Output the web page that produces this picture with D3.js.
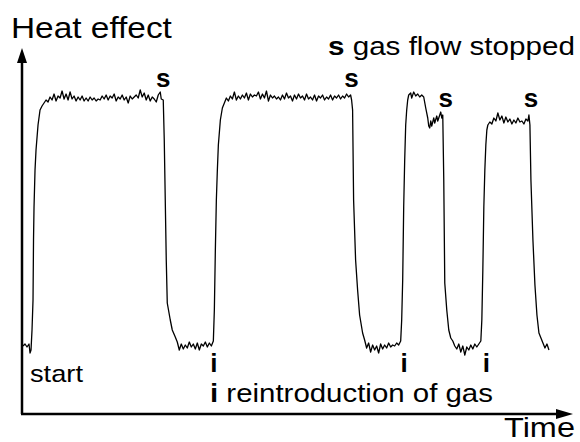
<!DOCTYPE html>
<html>
<head>
<meta charset="utf-8">
<script src="https://cdn.jsdelivr.net/npm/d3@7"></script>
<style>
  body { margin: 0; background: white; }
  text { font-family: "Liberation Sans", Arial, sans-serif; fill: #000; }
</style>
</head>
<body>
<div id="chart"></div>
<script>
let width = 580;
let height = 442;

// trace (time in arbitrary units, heat effect in arbitrary units)
let time = [1,3,5,7,8,9,10,11,11.5,12,13,14,16,18,20,22,24,26,28,30,32,34,36,38,40,42,44,46,48,50,52,54,56,58,60,62,64,66,68,70,72,74,76,78,80,82,84,86,88,90,92,94,96,98,100,102,104,106,108,110,112,114,116,118,120,122,124,126,128,130,132,134,136,138,139,141,
  142,143,144,145,148,150,153,155,157,159,161,163,165,167,169,171,173,175,177,179,181,183,185,187,189,191,
  192,193,194,195,196,198,200,202,204,206,208,210,212,214,216,218,220,222,224,226,228,230,232,234,236,238,240,242,244,246,248,250,252,254,256,258,260,262,264,266,268,270,272,274,276,278,280,282,284,286,288,290,292,294,296,298,300,302,304,306,308,310,312,314,316,318,320,322,324,326,328,329,
  330,331,333,335,337,340,342,344,346,348,350,352,354,356,358,360,362,364,366,368,370,372,374,376,378,
  379,380,381,382,383,384,385,386,388,389,391,393,395,397,399,401,
  403,405,406,407,408,409,411,412,414,415,417,418,419,420,
  421,422,424,426,428,430,432,434,436,438,440,442,444,446,448,450,452,454,456,458,
  459,460,461,462,463,464,465,467,469,471,473,475,477,479,481,483,485,487,489,491,493,495,497,499,501,503,505,506,
  507,508,510,512,514,516,518,520,522,524,526];
let heat = [68,70,67,70,61,64,84,114,174,207,244,264,289,304,308,311,314,312,317,314,320,313,318,316,323,315,320,314,322,315,318,313,317,314,318,313,316,313,317,314,316,313,315,314,318,315,319,314,318,316,320,313,317,315,319,314,317,311,318,315,317,319,316,324,317,321,314,319,313,317,315,312,319,322,315,314,
  274,214,154,111,94,84,77,72,64,70,65,69,66,72,67,70,65,71,64,70,68,72,67,71,68,73,
  104,164,214,244,269,294,306,311,316,313,318,315,322,314,318,315,319,316,321,314,320,317,319,318,322,315,320,316,323,313,319,316,318,315,317,314,319,315,321,316,318,313,319,315,320,316,318,314,320,315,317,314,319,313,318,316,319,314,317,315,319,314,318,316,319,315,318,316,320,317,319,314,
  304,214,154,124,99,81,74,66,71,62,69,64,68,61,70,65,69,66,71,67,69,68,71,69,73,
  94,134,207,254,289,304,314,319,321,316,322,318,320,317,319,317,
  306,296,288,286,293,288,296,291,298,293,299,302,296,299,
  234,131,104,84,76,73,68,65,70,62,68,59,67,64,69,65,70,67,70,73,
  94,144,207,244,269,284,289,292,290,296,293,301,294,298,291,297,292,295,290,294,291,296,292,293,290,295,293,299,
  289,234,174,129,99,81,76,71,66,70,64];

// event markers
let stopTimes = [141, 329, 423, 508];
let stopLabelHeat = [327, 327, 307, 307];
let gasTimes = [191, 381, 463];

let margin = { top: 48, right: 7, bottom: 28, left: 22 };

let svg = d3.select("#chart")
  .append("svg")
  .attr("width", width)
  .attr("height", height);

svg.append("rect")
  .attr("width", width)
  .attr("height", height)
  .attr("fill", "white");

let xScale = d3.scaleLinear()
  .domain([0, 550])
  .range([margin.left, width - margin.right]);

let yScale = d3.scaleLinear()
  .domain([0, 366])
  .range([height - margin.bottom, margin.top]);

let x0 = xScale(0), y0 = yScale(0);
let xEnd = xScale.range()[1], yEnd = yScale.range()[1];

// axes with arrow heads
svg.append("line")
  .attr("x1", x0).attr("y1", y0)
  .attr("x2", x0).attr("y2", yEnd + 10)
  .attr("stroke", "#000").attr("stroke-width", 2.5);
svg.append("path")
  .attr("d", `M${x0},${yEnd} L${x0 - 5},${yEnd + 15} L${x0 + 5},${yEnd + 15} Z`)
  .attr("fill", "#000");

svg.append("line")
  .attr("x1", x0 - 1).attr("y1", y0)
  .attr("x2", xEnd - 10).attr("y2", y0)
  .attr("stroke", "#000").attr("stroke-width", 2.5);
svg.append("path")
  .attr("d", `M${xEnd},${y0} L${xEnd - 17},${y0 - 5} L${xEnd - 17},${y0 + 5} Z`)
  .attr("fill", "#000");

// the trace
let points = time.map((t, i) => [t, heat[i]]);
let line = d3.line()
  .x(d => xScale(d[0]))
  .y(d => yScale(d[1]));

svg.append("path")
  .datum(points)
  .attr("d", line)
  .attr("fill", "none")
  .attr("stroke", "#000")
  .attr("stroke-width", 1.3)
  .attr("stroke-linejoin", "round");

// s markers
svg.selectAll(".smark")
  .data(stopTimes)
  .enter()
  .append("text")
  .attr("class", "smark")
  .attr("x", d => xScale(d))
  .attr("y", (d, i) => yScale(stopLabelHeat[i]))
  .attr("text-anchor", "middle")
  .attr("font-weight", "bold")
  .attr("font-size", 26)
  .text("s");

// i markers
svg.selectAll(".imark")
  .data(gasTimes)
  .enter()
  .append("text")
  .attr("class", "imark")
  .attr("x", d => xScale(d) + 0.5)
  .attr("y", yScale(42))
  .attr("text-anchor", "middle")
  .attr("font-weight", "bold")
  .attr("font-size", 26)
  .text("i");

// stretched text helper
function label(x, y, size, width, parts) {
  let g = svg.append("g").attr("transform", `translate(${x},${y})`);
  let t = g.append("text").attr("font-size", size);
  parts.forEach(p => {
    t.append("tspan").attr("font-weight", p[1] ? "bold" : "normal").text(p[0]);
  });
  let w = t.node().getComputedTextLength();
  t.attr("transform", `scale(${width / w},1)`);
}

label(11, 38, 29, 161, [["Heat effect", false]]);
label(328, 55, 25, 247, [["s", true], [" gas flow stopped", false]]);
label(30, 382, 24, 53, [["start", false]]);
label(210, 402, 25, 283, [["i", true], [" reintroduction of gas", false]]);
label(504, 437, 28, 71, [["Time", false]]);
</script>
</body>
</html>
